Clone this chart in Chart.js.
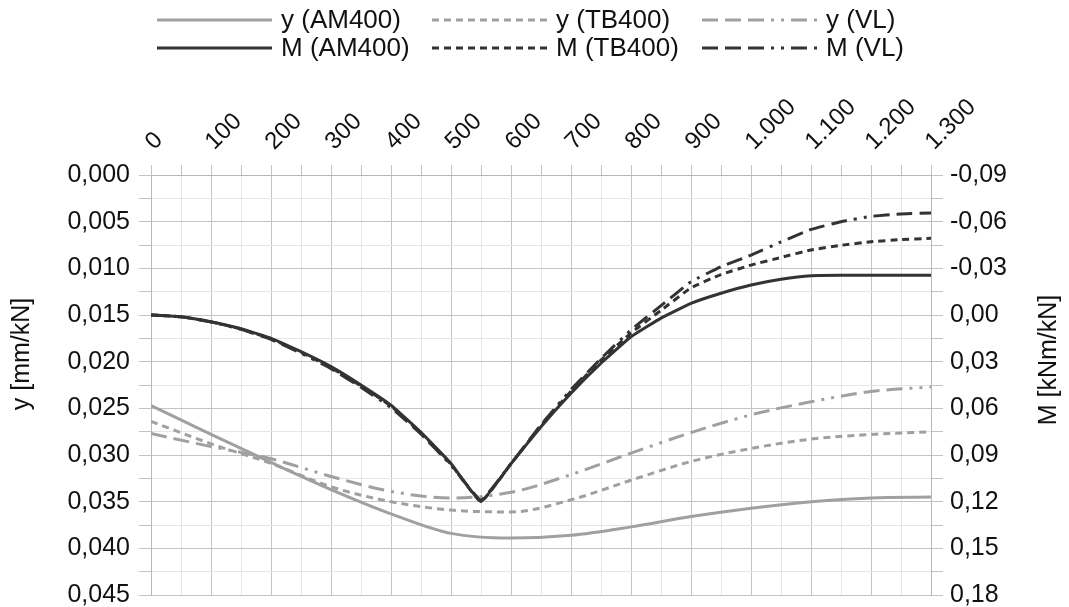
<!DOCTYPE html>
<html>
<head>
<meta charset="utf-8">
<script src="https://cdn.jsdelivr.net/npm/chart.js@4/dist/chart.umd.min.js"></script>
<style>
  html, body { margin: 0; padding: 0; background: #fff; }
  #wrap { width: 1069px; height: 607px; }
</style>
</head>
<body>
<div id="wrap"><canvas id="chart"></canvas></div>
<script>
// positions along the member (x axis)
var xM = [0, 50, 100, 150, 200, 250, 300, 350, 400, 450, 500, 550, 600, 650,
          700, 750, 800, 850, 900, 950, 1000, 1050, 1100, 1150, 1200, 1250, 1300];
var xY = [0, 100, 200, 300, 400, 500, 600, 700, 800, 900, 1000, 1100, 1200, 1300];

// deflection y [mm/kN]
var yAM400 = [0.0247, 0.0278, 0.0308, 0.0337, 0.0363, 0.0384, 0.0389, 0.0386, 0.0377, 0.0366, 0.0357, 0.0350, 0.0346, 0.0345];
var yTB400 = [0.0264, 0.0288, 0.0309, 0.0334, 0.0350, 0.0359, 0.0361, 0.0348, 0.0327, 0.0307, 0.0293, 0.0283, 0.0278, 0.0275];
var yVL    = [0.0277, 0.0291, 0.0304, 0.0323, 0.0339, 0.0346, 0.0340, 0.0321, 0.0298, 0.0276, 0.0257, 0.0243, 0.0232, 0.0227];

// moment M [kNm/kN]
var mAM400 = [0.000, 0.0011, 0.0043, 0.0088, 0.015, 0.0236, 0.0332, 0.045, 0.058, 0.0755, 0.0955, 0.120, 0.0956, 0.0718,
              0.0503, 0.031, 0.014, 0.002, -0.0075, -0.014, -0.0193, -0.023, -0.0253, -0.0255, -0.0255, -0.0255, -0.0255];
var mTB400 = [0.000, 0.0011, 0.0044, 0.009, 0.0153, 0.024, 0.0338, 0.0456, 0.0585, 0.076, 0.096, 0.120, 0.0956, 0.0712,
              0.049, 0.029, 0.0116, -0.003, -0.0175, -0.026, -0.0321, -0.037, -0.0418, -0.0448, -0.0471, -0.0485, -0.0493];
var mVL    = [0.000, 0.0011, 0.0045, 0.0092, 0.0157, 0.0245, 0.0345, 0.0465, 0.0595, 0.0765, 0.0965, 0.119, 0.0956, 0.0706,
              0.048, 0.028, 0.0096, -0.006, -0.0214, -0.031, -0.0385, -0.047, -0.055, -0.060, -0.0634, -0.065, -0.0656];

var xTicks = { min: 0, max: 1300, step: 50 };
var yTicks = { min: 0, max: 0.045, step: 0.0025 };
var mTicks = { min: -0.09, max: 0.18, step: 0.015 };
var axisTitles = ['y [mm/kN]', 'M [kNm/kN]'];

var lightGrey = '#a0a0a0';
var darkGrey = '#333333';
var majorGrid = '#c4c4c4';
var minorGrid = '#e6e6e6';
var fontFamily = '"Liberation Sans", Arial, sans-serif';

function pts(xs, vs) {
    return xs.map(function (x, i) { return { x: x, y: vs[i] }; });
}

function deNum(v, d) {
    var s = Math.abs(v).toFixed(d).split('.');
    s[0] = s[0].replace(/\B(?=(\d{3})+(?!\d))/g, '.');
    return (v < 0 && Math.abs(v) > 1e-9 ? '-' : '') + s.join(',');
}

var legendCols = [157, 432, 702];
var legendRows = [20, 48];

// legend in a 3 x 2 grid plus the two vertical axis titles
var gridLegend = {
    id: 'gridLegend',
    afterDraw: function (chart) {
        var c = chart.ctx;
        c.save();
        c.font = '26px ' + fontFamily;
        c.textBaseline = 'middle';
        c.fillStyle = '#111';
        chart.data.datasets.forEach(function (ds, i) {
            var x = legendCols[i % 3], y = legendRows[Math.floor(i / 3)];
            c.strokeStyle = ds.borderColor;
            c.lineWidth = ds.borderWidth;
            c.setLineDash(ds.borderDash || []);
            c.beginPath();
            c.moveTo(x, y);
            c.lineTo(x + 115, y);
            c.stroke();
            c.setLineDash([]);
            c.fillText(ds.label, x + 124, y + 1);
        });

        c.font = '25px ' + fontFamily;
        c.textAlign = 'center';
        [[22, 354], [1049, 360]].forEach(function (p, i) {
            c.save();
            c.translate(p[0], p[1]);
            c.rotate(-Math.PI / 2);
            c.fillText(axisTitles[i], 0, 0);
            c.restore();
        });
        c.restore();
    }
};

Chart.defaults.font.family = fontFamily;
Chart.defaults.color = '#111';

var ctx = document.getElementById('chart').getContext('2d');

var chart = new Chart(ctx, {
    type: 'line',
    data: {
        datasets: [
            { label: 'y (AM400)', data: pts(xY, yAM400), yAxisID: 'y', borderColor: lightGrey, borderWidth: 3, cubicInterpolationMode: 'monotone' },
            { label: 'y (TB400)', data: pts(xY, yTB400), yAxisID: 'y', borderColor: lightGrey, borderWidth: 3, borderDash: [7, 5], cubicInterpolationMode: 'monotone' },
            { label: 'y (VL)', data: pts(xY, yVL), yAxisID: 'y', borderColor: lightGrey, borderWidth: 3, borderDash: [16, 7, 16, 7, 16, 7, 3, 7, 3, 7], cubicInterpolationMode: 'monotone' },
            { label: 'M (AM400)', data: pts(xM, mAM400), yAxisID: 'm', borderColor: darkGrey, borderWidth: 3, tension: 0.1 },
            { label: 'M (TB400)', data: pts(xM, mTB400), yAxisID: 'm', borderColor: darkGrey, borderWidth: 3, borderDash: [7, 5], tension: 0.1 },
            { label: 'M (VL)', data: pts(xM, mVL), yAxisID: 'm', borderColor: darkGrey, borderWidth: 3, borderDash: [16, 7, 16, 7, 16, 7, 3, 7, 3, 7], tension: 0.1 }
        ]
    },
    options: {
        responsive: true,
        maintainAspectRatio: false,
        animation: false,
        elements: { point: { radius: 0 }, line: { borderCapStyle: 'butt' } },
        layout: { padding: { top: 60, bottom: 12, left: 0, right: 0 } },
        plugins: { legend: { display: false }, tooltip: { enabled: false } },
        scales: {
            x: {
                type: 'linear',
                position: 'top',
                min: xTicks.min,
                max: xTicks.max,
                afterFit: function (s) { s.height = 115; },
                border: { color: '#b8b8b8' },
                grid: {
                    color: function (c) { return c.tick && c.tick.value % 100 === 0 ? majorGrid : minorGrid; },
                    tickColor: '#c4c4c4',
                    tickLength: 10
                },
                ticks: {
                    stepSize: xTicks.step,
                    autoSkip: false,
                    minRotation: 45,
                    maxRotation: 45,
                    padding: 9,
                    labelOffset: 19,
                    font: { size: 24 },
                    callback: function (v) { return v % 100 === 0 ? deNum(v, 0) : ''; }
                }
            },
            y: {
                position: 'left',
                reverse: true,
                min: yTicks.min,
                max: yTicks.max,
                afterFit: function (s) { s.width = 151; s.paddingTop = 0; s.paddingBottom = 0; },
                border: { color: '#b8b8b8' },
                grid: {
                    color: function (c) { return c.tick && Math.round(c.tick.value / yTicks.step) % 2 === 0 ? majorGrid : minorGrid; },
                    tickColor: '#c4c4c4',
                    tickLength: 12
                },
                ticks: {
                    stepSize: yTicks.step,
                    autoSkip: false,
                    padding: 9,
                    font: { size: 25 },
                    callback: function (v) {
                        var k = Math.round(v / yTicks.step);
                        return k % 2 === 0 ? deNum(k * yTicks.step, 3) : '';
                    }
                }
            },
            m: {
                position: 'right',
                reverse: true,
                min: mTicks.min,
                max: mTicks.max,
                afterFit: function (s) { s.width = 138; s.paddingTop = 0; s.paddingBottom = 0; },
                border: { color: '#b8b8b8' },
                grid: { drawOnChartArea: false, tickColor: '#c4c4c4', tickLength: 12 },
                ticks: {
                    stepSize: mTicks.step,
                    autoSkip: false,
                    padding: 7,
                    font: { size: 25 },
                    callback: function (v) {
                        var k = Math.round(v / mTicks.step);
                        return k % 2 === 0 ? deNum(k * mTicks.step, 2) : '';
                    }
                }
            }
        }
    },
    plugins: [gridLegend]
});
</script>
</body>
</html>
